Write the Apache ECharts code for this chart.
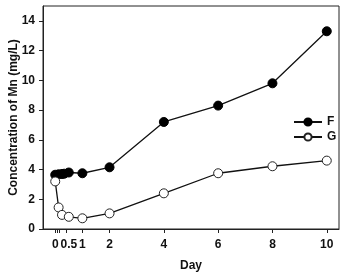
<!DOCTYPE html>
<html>
<head>
<meta charset="utf-8">
<script src="https://cdn.jsdelivr.net/npm/echarts@6/dist/echarts.min.js"></script>
<style>
  html, body { margin: 0; padding: 0; background: #fff; }
  #main { width: 343px; height: 272px; }
</style>
</head>
<body>
<div id="main"></div>
<script>
// sampling times (days) and Mn concentration (mg/L)
var daysF = [0, 0.125, 0.25, 0.33, 0.5, 1, 2, 4, 6, 8, 10];
var valuesF = [3.65, 3.68, 3.7, 3.72, 3.8, 3.75, 4.15, 7.2, 8.3, 9.8, 13.3];
var daysG = [0, 0.125, 0.25, 0.5, 1, 2, 4, 6, 8, 10];
var valuesG = [3.2, 1.45, 0.95, 0.82, 0.72, 1.05, 2.4, 3.75, 4.22, 4.6];
var xTicks = [0, 0.08, 0.16, 0.4, 1, 2, 4, 6, 8, 10];
var xLabels = [0, 0.5, 1, 2, 4, 6, 8, 10];
var yTicks = [0, 2, 4, 6, 8, 10, 12, 14];

function pairs(xs, ys) {
  return xs.map(function (x, i) { return [x, ys[i]]; });
}

var font = 'Liberation Sans, Arial, sans-serif';
var myChart = echarts.init(document.getElementById('main'));
myChart.setOption({
  animation: false,
  grid: {
    left: 43, top: 6, right: 4, bottom: 43,
    outerBoundsMode: 'none', containLabel: false,
    show: true, borderColor: '#222', borderWidth: 1
  },
  legend: {
    orient: 'vertical',
    left: 288, top: 111,
    itemWidth: 28, itemHeight: 9, itemGap: 3,
    textStyle: { fontFamily: font, fontWeight: 'bold', fontSize: 12, color: '#111' },
    data: ['F', 'G']
  },
  xAxis: {
    type: 'value',
    min: -0.45, max: 10.45,
    name: 'Day', nameLocation: 'middle', nameGap: 31, nameMoveOverlap: false,
    nameTextStyle: { fontFamily: font, fontWeight: 'bold', fontSize: 12, color: '#111' },
    axisLine: { onZero: false, lineStyle: { color: '#222', width: 1 } },
    axisTick: { inside: false, length: 4, customValues: xTicks, lineStyle: { color: '#222' } },
    axisLabel: {
      customValues: xLabels, margin: 10,
      fontFamily: font, fontWeight: 'bold', fontSize: 12, color: '#111',
      formatter: function (v) { return v === 0.5 ? '0.5' : String(v); }
    },
    splitLine: { show: false }
  },
  yAxis: {
    type: 'value',
    min: 0, max: 15,
    name: 'Concentration of Mn (mg/L)', nameLocation: 'middle', nameGap: 23, nameMoveOverlap: false,
    nameTextStyle: { fontFamily: font, fontWeight: 'bold', fontSize: 12, color: '#111' },
    axisLine: { show: true, onZero: false, lineStyle: { color: '#222', width: 1 } },
    axisTick: { show: true, inside: false, length: 4, customValues: yTicks, lineStyle: { color: '#222' } },
    axisLabel: {
      customValues: yTicks, margin: 8,
      fontFamily: font, fontWeight: 'bold', fontSize: 12, color: '#111'
    },
    splitLine: { show: false }
  },
  series: [
    {
      name: 'F', type: 'line',
      data: pairs(daysF, valuesF),
      symbol: 'circle', symbolSize: 9,
      itemStyle: { color: '#000', borderColor: '#000', borderWidth: 1 },
      lineStyle: { color: '#111', width: 1.3 }
    },
    {
      name: 'G', type: 'line',
      data: pairs(daysG, valuesG),
      symbol: 'circle', symbolSize: 9,
      itemStyle: { color: '#fff', borderColor: '#222', borderWidth: 1 },
      lineStyle: { color: '#111', width: 1.3 }
    }
  ]
});
</script>
</body>
</html>
